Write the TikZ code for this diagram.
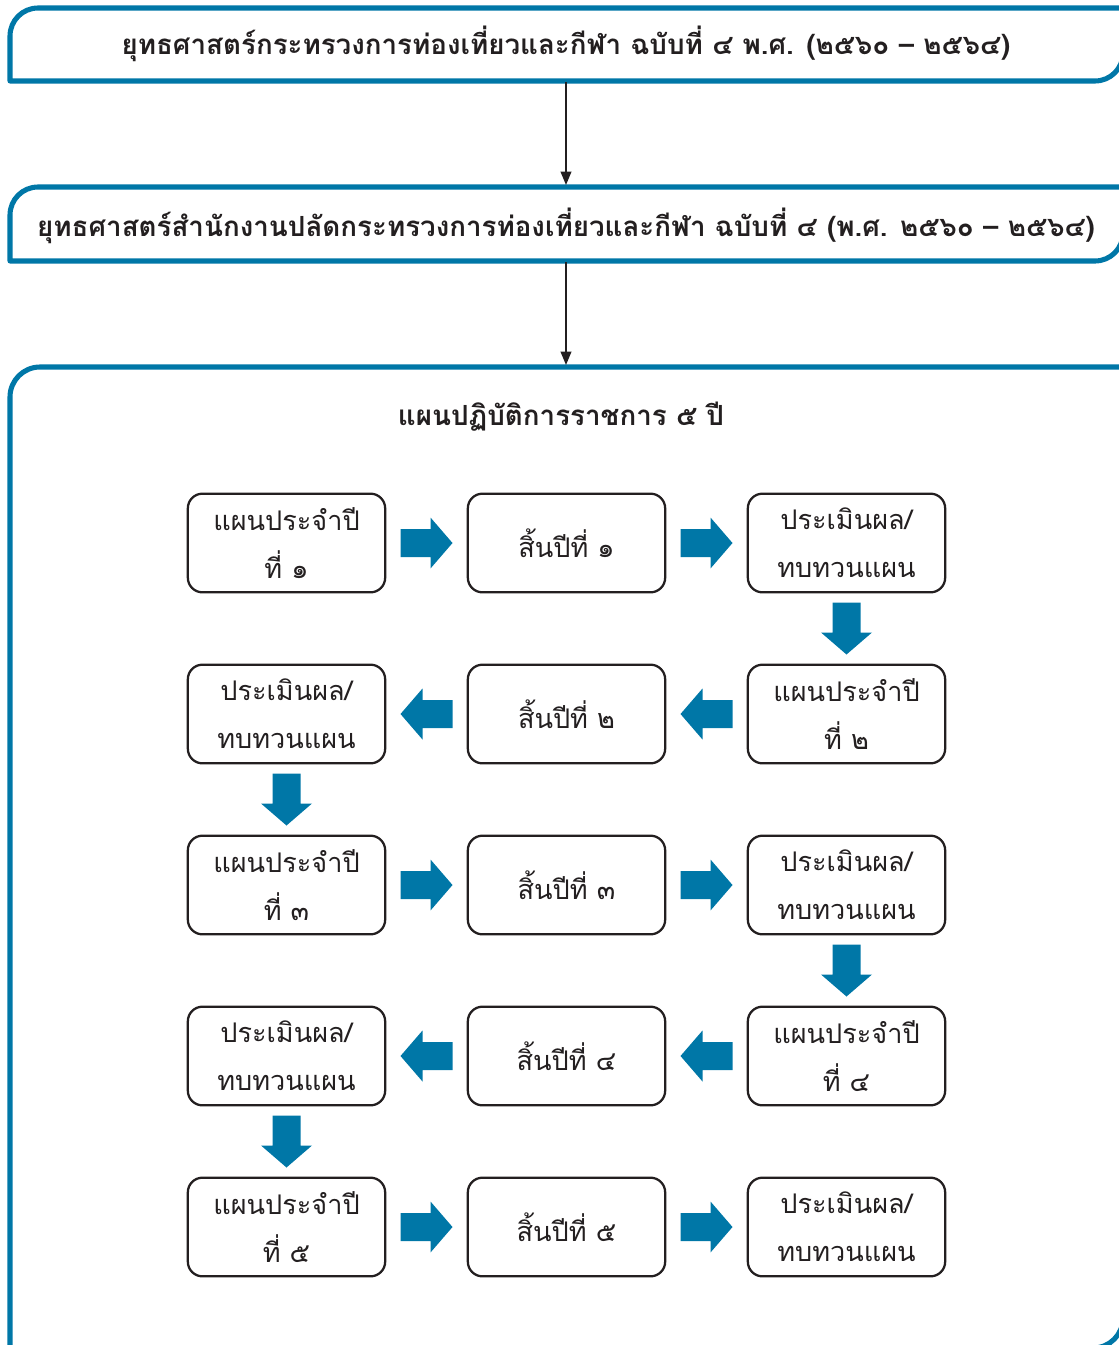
\documentclass[tikz,border=0pt]{standalone}
\usepackage{fontspec}
\usetikzlibrary{arrows.meta,calc}
\newfontfamily\thai[Script=Thai]{Loma}
\definecolor{brand}{RGB}{0,119,167}
\definecolor{ink}{RGB}{35,31,32}
\begin{document}
\begin{tikzpicture}[x=0.75pt,y=-0.75pt,
  frame/.style={draw=brand,line width=3.8pt,line join=round},
  stage/.style={draw=ink,line width=1.7pt,rounded corners=11pt,minimum width=148pt,minimum height=74pt,
    align=center,inner sep=0pt,font=\thai\fontsize{20.3}{36}\selectfont,text=ink},
  headline/.style={font=\thai\bfseries\fontsize{20.8}{24}\selectfont,text=ink},
  link/.style={draw=ink,line width=1.2pt,-{Triangle[length=10pt,width=8pt]}},
  blockarrow/.pic={\fill[brand] (-26,-14) -- (4,-14) -- (4,-25.5) -- (26,0) -- (4,25.5) -- (4,14) -- (-26,14) -- cycle;}
]
\useasboundingbox (0,0) rectangle (1119,1345);

% upper banner
\draw[frame] (1140,8) -- (38,8) arc[start angle=270,end angle=180,radius=28] -- (10,81) -- (1095,81)
  arc[start angle=90,end angle=0,radius=28] -- (1123,8);
\node[headline] (s1) at (566,44) {ยุทธศาสตร์กระทรวงการท่องเที่ยวและกีฬา ฉบับที่ ๔ พ.ศ. (๒๕๖๐ – ๒๕๖๔)};
\coordinate (s1b) at (566,82);

% second banner
\draw[frame] (1140,187) -- (38,187) arc[start angle=270,end angle=180,radius=28] -- (10,261) -- (1095,261)
  arc[start angle=90,end angle=0,radius=28] -- (1123,187);
\node[headline] (s2) at (566,226) {ยุทธศาสตร์สำนักงานปลัดกระทรวงการท่องเที่ยวและกีฬา ฉบับที่ ๔ (พ.ศ. ๒๕๖๐ – ๒๕๖๔)};
\coordinate (s2t) at (566,185);
\coordinate (s2b) at (566,262);

% plan frame
\draw[frame] (1140,367) -- (40,367) arc[start angle=270,end angle=180,radius=30] -- (10,1360);
\draw[frame] (1123,367) -- (1123,1318) arc[start angle=0,end angle=90,radius=30] -- (1000,1348);
\coordinate (pt) at (566,365);
\node[headline] (pl) at (561,417) {แผนปฏิบัติการราชการ ๕ ปี};

\draw[link] (s1b) -- (s2t);
\draw[link] (s2b) -- (pt);

% stage boxes
\foreach \r/\y in {1/543,2/714,3/885,4/1056,5/1227}{
  \path (286.5,\y) coordinate (c\r1) (566.5,\y) coordinate (c\r2) (846.5,\y) coordinate (c\r3);
}
\node[stage] (b11) at (c11) {แผนประจำปี\\ที่ ๑};
\node[stage] (b12) at (c12) {สิ้นปีที่ ๑};
\node[stage] (b13) at (c13) {ประเมินผล/\\ทบทวนแผน};
\node[stage] (b21) at (c21) {ประเมินผล/\\ทบทวนแผน};
\node[stage] (b22) at (c22) {สิ้นปีที่ ๒};
\node[stage] (b23) at (c23) {แผนประจำปี\\ที่ ๒};
\node[stage] (b31) at (c31) {แผนประจำปี\\ที่ ๓};
\node[stage] (b32) at (c32) {สิ้นปีที่ ๓};
\node[stage] (b33) at (c33) {ประเมินผล/\\ทบทวนแผน};
\node[stage] (b41) at (c41) {ประเมินผล/\\ทบทวนแผน};
\node[stage] (b42) at (c42) {สิ้นปีที่ ๔};
\node[stage] (b43) at (c43) {แผนประจำปี\\ที่ ๔};
\node[stage] (b51) at (c51) {แผนประจำปี\\ที่ ๕};
\node[stage] (b52) at (c52) {สิ้นปีที่ ๕};
\node[stage] (b53) at (c53) {ประเมินผล/\\ทบทวนแผน};

% flow arrows
\foreach \a/\b in {b11/b12,b12/b13,b31/b32,b32/b33,b51/b52,b52/b53}
  \pic at ($(\a.east)!0.5!(\b.west)$) {blockarrow};
\foreach \a/\b in {b23/b22,b22/b21,b43/b42,b42/b41}
  \pic[rotate=180] at ($(\a.west)!0.5!(\b.east)$) {blockarrow};
\foreach \a/\b in {b13/b23,b21/b31,b33/b43,b41/b51}
  \pic[rotate=-90] at ($(\a.south)!0.5!(\b.north)$) {blockarrow};
\end{tikzpicture}
\end{document}
